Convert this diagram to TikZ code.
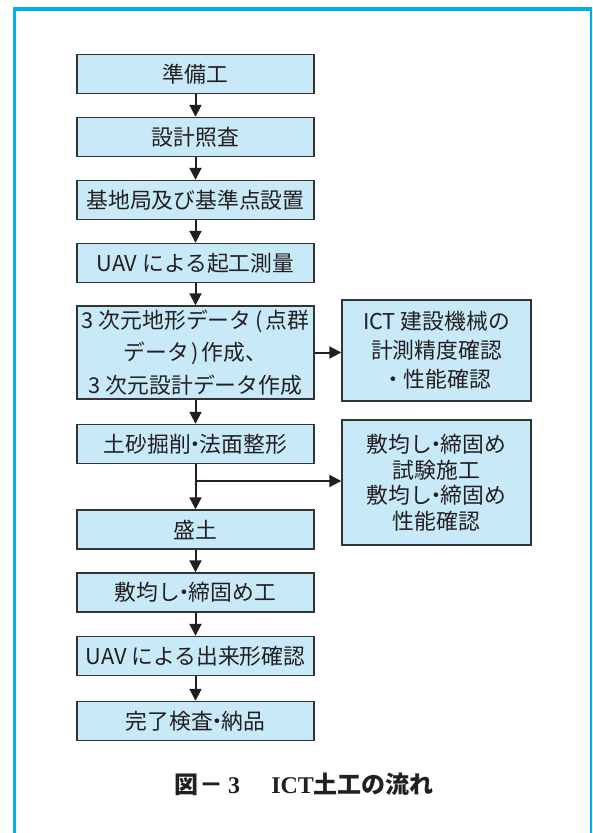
\documentclass[tikz,border=0pt]{standalone}
\usepackage{fontspec}
\setmainfont{Noto Sans CJK JP}
\newfontfamily\capserif{Liberation Serif}
\usetikzlibrary{arrows.meta}
\definecolor{frameblue}{HTML}{00AEEF}
\definecolor{boxfill}{HTML}{C8E9F8}
\definecolor{boxline}{HTML}{333333}
\definecolor{txt}{HTML}{231F20}
\newcommand{\nd}{\kern-.3em・\kern-.3em}
\begin{document}
\begin{tikzpicture}[x=1pt,y=-1pt,
  flowbox/.style={draw=boxline, fill=boxfill, line width=1.4pt, minimum width=237pt, minimum height=39pt, inner sep=0pt, text=txt, font=\fontsize{21.8}{24}\selectfont, align=center},
  sidebox/.style={flowbox, minimum width=189pt},
  conn/.style={draw=txt, line width=2pt, -{Triangle[length=12pt,width=12pt]}},
]
\useasboundingbox (0,0) rectangle (592,833);
\begin{scope}
\clip (0,0) rectangle (592,833);
\draw[frameblue, line width=3.8pt] (14.5,840) -- (14.5,9) -- (591.5,9) -- (591.5,840);
\end{scope}

\node[flowbox] (n1) at (195.5,74) {準備工};
\node[flowbox] (n2) at (195.5,137) {設計照査};
\node[flowbox] (n3) at (195.5,200) {基地局及び基準点設置};
\node[flowbox] (n4) at (195.5,263) {UAV による起工測量};
\node[flowbox, minimum height=93pt, font=\fontsize{21.8}{32.5}\selectfont] (n5) at (195.5,352.5) {3 次元地形データ\kern.2em(\kern.1em点群\\データ\kern.1em)\kern.15em作成、\\3 次元設計データ作成};
\node[flowbox] (n6) at (195.5,444) {土砂掘削\nd 法面整形};
\node[flowbox] (n7) at (195.5,529.5) {盛土};
\node[flowbox] (n8) at (195.5,592.5) {敷均し\nd 締固め工};
\node[flowbox] (n9) at (195.5,656) {UAV による出来形確認};
\node[flowbox] (n10) at (195.5,721) {完了検査\nd 納品};

\node[sidebox, minimum height=101pt, font=\fontsize{21.8}{29}\selectfont] (r1) at (436.5,350.5) {ICT 建設機械の\\計測精度確認\\・性能確認};
\node[sidebox, minimum height=125pt, font=\fontsize{21.8}{25.5}\selectfont] (r2) at (436.5,482.5) {敷均し\nd 締固め\\試験施工\\敷均し\nd 締固め\\性能確認};

\draw[conn] (n1) -- (n2);
\draw[conn] (n2) -- (n3);
\draw[conn] (n3) -- (n4);
\draw[conn] (n4) -- (n5);
\draw[conn] (n5) -- (n6);
\draw[conn] (n6) -- (n7);
\draw[conn] (n7) -- (n8);
\draw[conn] (n8) -- (n9);
\draw[conn] (n9) -- (n10);
\draw[conn] (n5.east) -- (n5.east -| r1.west);
\coordinate (br) at (195.5,481);
\draw[conn] (br) -- (br -| r2.west);

\node[text=txt, font=\fontsize{24}{28}\selectfont\bfseries] (cap) at (304,784) {図\kern.05em－\kern.2em{\capserif 3}\hspace{1.3em}{\capserif ICT}土工の流れ};
\end{tikzpicture}
\end{document}
